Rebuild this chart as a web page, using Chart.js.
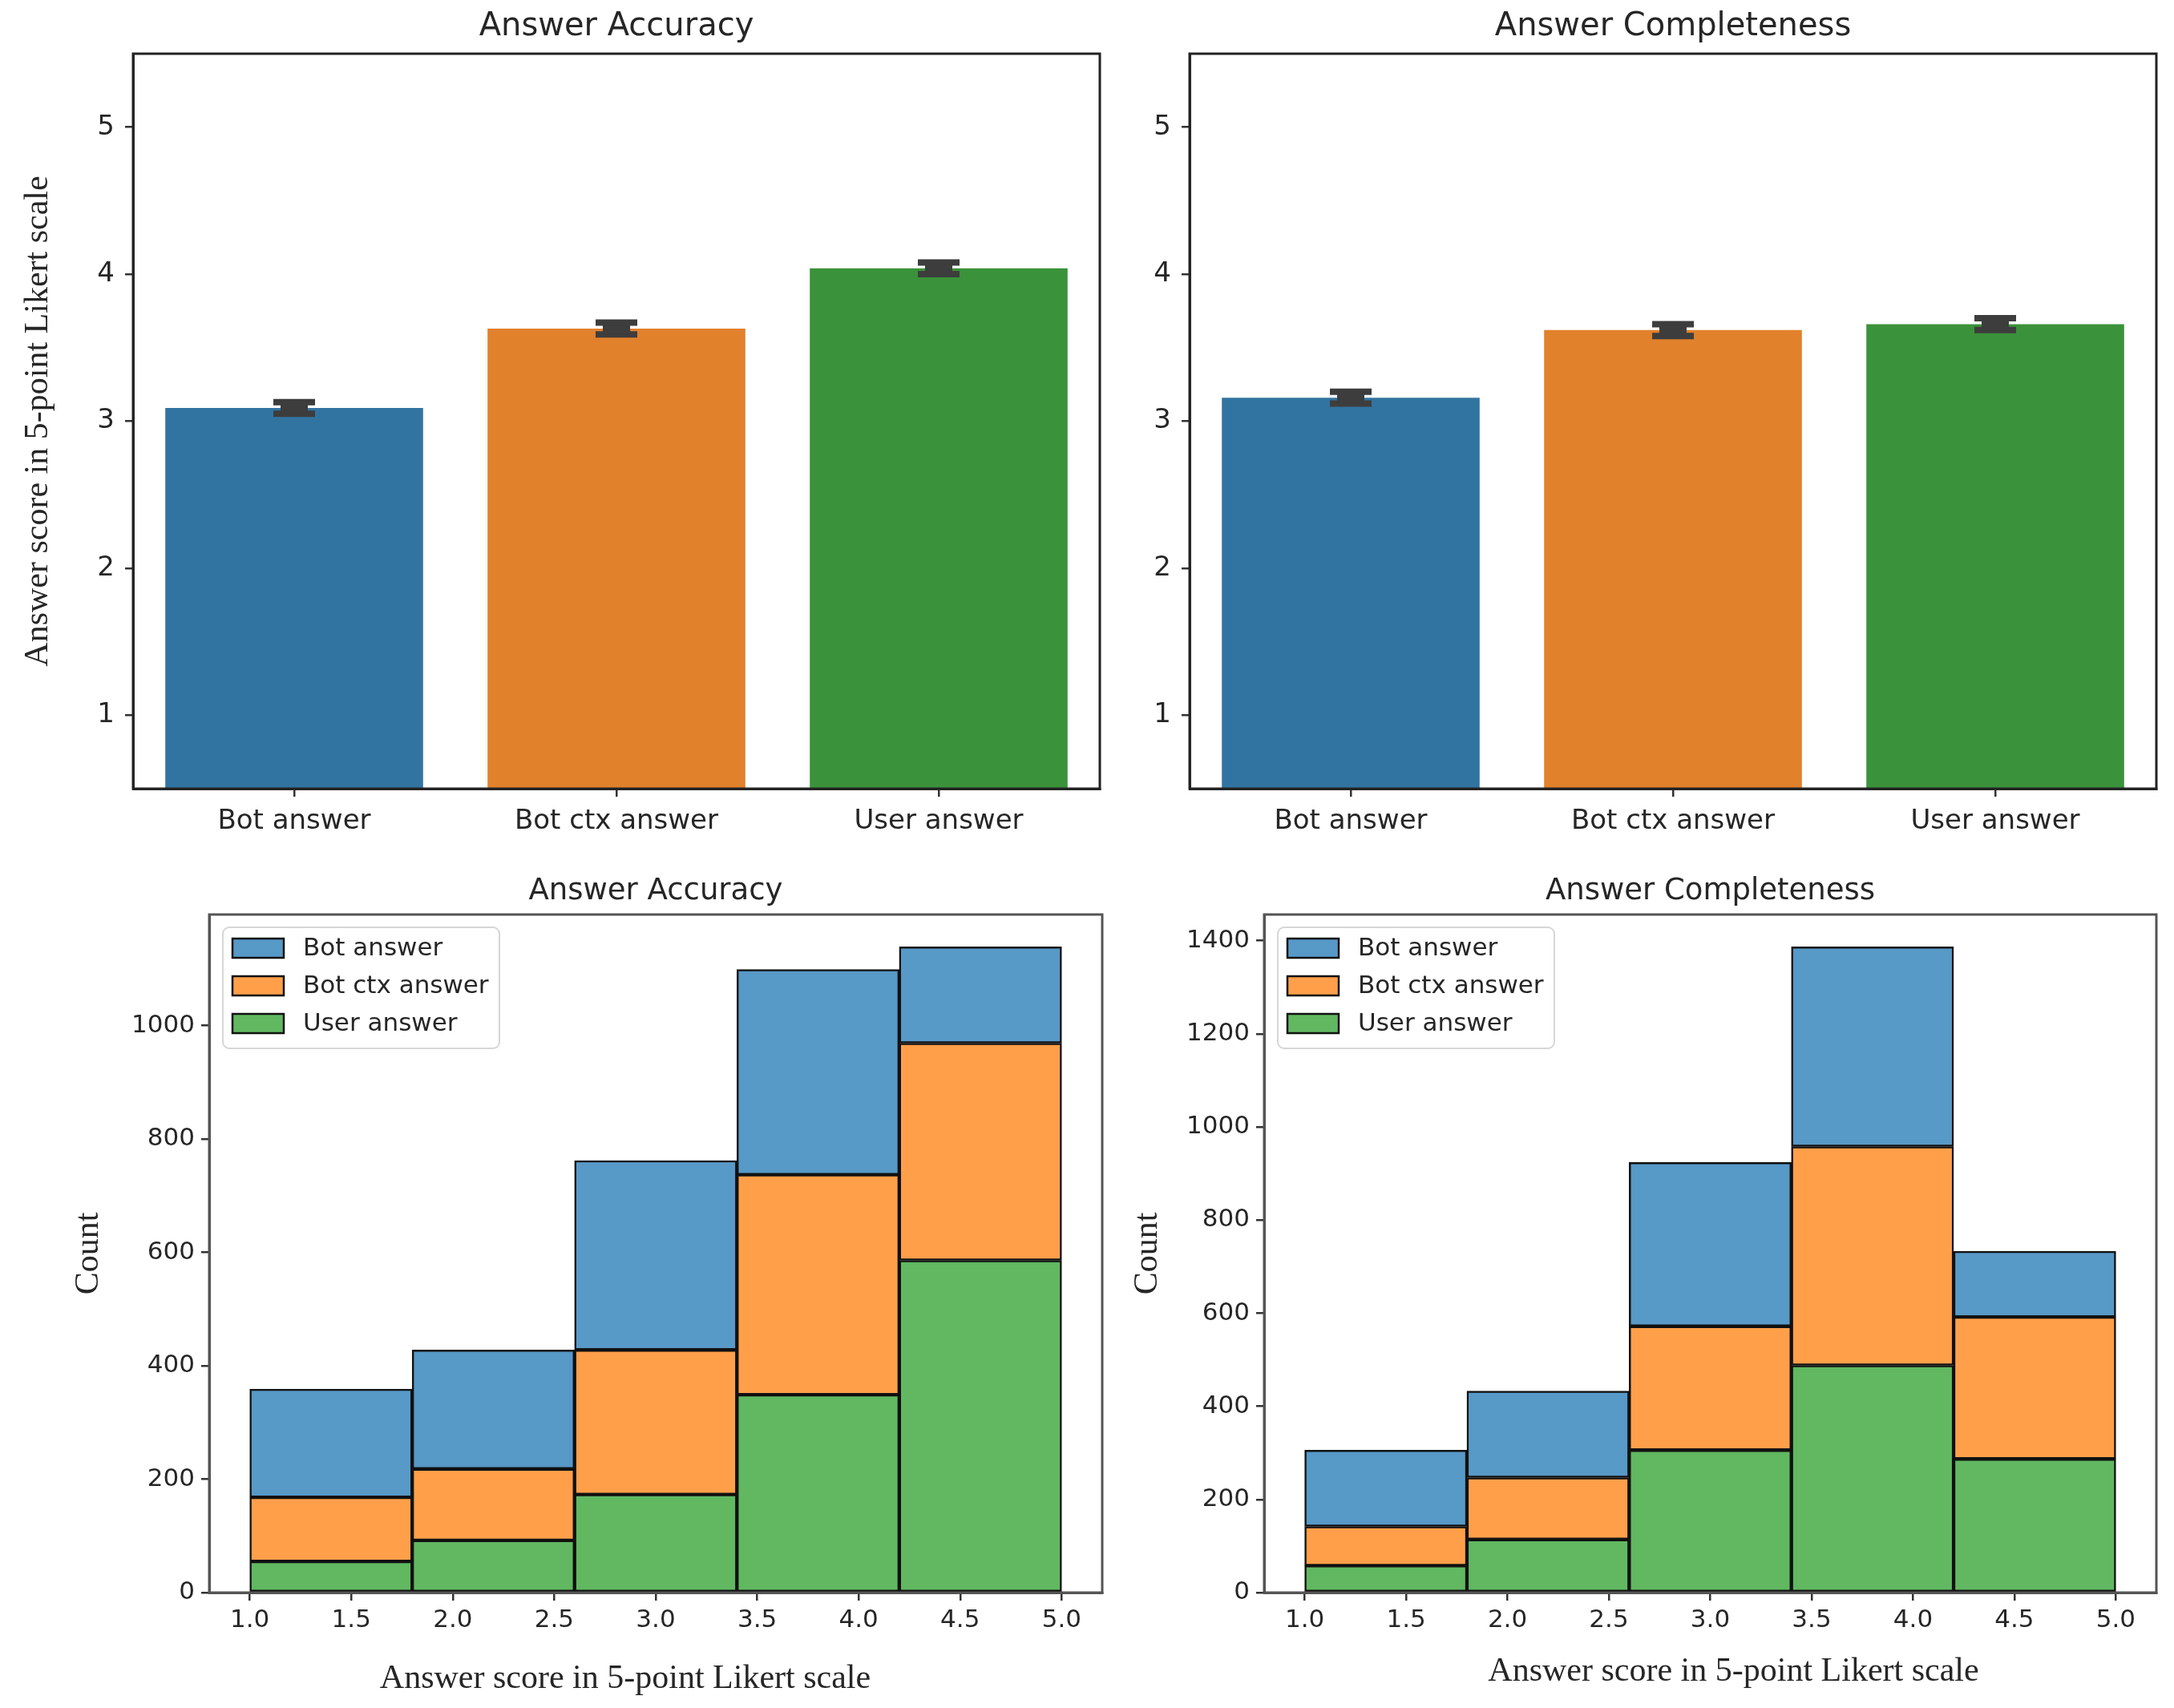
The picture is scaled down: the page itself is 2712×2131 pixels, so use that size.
<!DOCTYPE html>
<html>
<head>
<meta charset="utf-8">
<script src="https://cdn.jsdelivr.net/npm/chart.js@4.4.0/dist/chart.umd.min.js"></script>
<style>
  html, body { margin: 0; padding: 0; background: #fff; }
  body { width: 2712px; height: 2131px; position: relative; overflow: hidden; }
  canvas { position: absolute; }
</style>
</head>
<body>
<canvas id="accBar" width="1400" height="1060" style="left:0;top:0"></canvas>
<canvas id="compBar" width="1312" height="1060" style="left:1400px;top:0"></canvas>
<canvas id="accHist" width="1400" height="1071" style="left:0;top:1060px"></canvas>
<canvas id="compHist" width="1312" height="1071" style="left:1400px;top:1060px"></canvas>
<script>
// Categories and series
const answerTypes = ['Bot answer', 'Bot ctx answer', 'User answer'];

// Mean scores (top row) and half-width of the error bars
const accuracyMeans = [3.09, 3.63, 4.04];
const accuracyErr = [0.04, 0.04, 0.04];
const completenessMeans = [3.16, 3.62, 3.66];
const completenessErr = [0.04, 0.04, 0.04];
const scoreTicks = [1, 2, 3, 4, 5];

// Histogram bins (bottom row)
const binEdges = [1.0, 1.8, 2.6, 3.4, 4.2, 5.0];
const accBot = [191, 210, 334, 362, 170];
const accBotCtx = [113, 126, 255, 388, 383];
const accUser = [55, 92, 173, 349, 586];
const compBot = [164, 186, 352, 429, 141];
const compBotCtx = [84, 133, 266, 470, 305];
const compUser = [58, 114, 306, 488, 287];
const histXTicks = [1.0, 1.5, 2.0, 2.5, 3.0, 3.5, 4.0, 4.5, 5.0];
const accCountTicks = [0, 200, 400, 600, 800, 1000];
const compCountTicks = [0, 200, 400, 600, 800, 1000, 1200, 1400];

const barColors = ['#3274a1', '#e1812c', '#3a923a'];
const histColors = ['#5799c7', '#ff9f4a', '#61b861'];

const SANS = "'DejaVu Sans', sans-serif";
const SERIF = "'Liberation Serif', 'DejaVu Serif', serif";
const TEXT = '#262626';

// Box around the plotting area, like matplotlib spines
const framePlugin = {
    id: 'frame',
    afterDraw(chart, args, opts) {
        const a = chart.chartArea;
        const ctx = chart.ctx;
        ctx.save();
        ctx.strokeStyle = opts.color || '#222';
        ctx.lineWidth = opts.width || 3;
        ctx.strokeRect(a.left, a.top, a.right - a.left, a.bottom - a.top);
        ctx.restore();
    }
};

// Title centred over the plot area, plus optional x label placed by hand
const areaTitlePlugin = {
    id: 'areaTitle',
    afterDraw(chart, args, opts) {
        const a = chart.chartArea;
        const ctx = chart.ctx;
        ctx.save();
        ctx.fillStyle = TEXT;
        ctx.textAlign = 'center';
        ctx.textBaseline = 'middle';
        if (opts.text) {
            ctx.font = opts.size + 'px ' + SANS;
            ctx.fillText(opts.text, (a.left + a.right) / 2, opts.y);
        }
        if (opts.xLabel) {
            ctx.font = '42px ' + SERIF;
            ctx.fillText(opts.xLabel, (a.left + a.right) / 2 + opts.xLabelDx, opts.xLabelY);
        }
        ctx.restore();
    }
};

// Error bars on top of the mean bars
const errorBarPlugin = {
    id: 'errorBars',
    afterDatasetsDraw(chart, args, opts) {
        if (!opts.errors) return;
        const meta = chart.getDatasetMeta(0);
        const y = chart.scales.y;
        const vals = chart.data.datasets[0].data;
        const ctx = chart.ctx;
        ctx.save();
        ctx.strokeStyle = '#3d3d3d';
        meta.data.forEach((bar, i) => {
            const hi = y.getPixelForValue(vals[i] + opts.errors[i]);
            const lo = y.getPixelForValue(vals[i] - opts.errors[i]);
            const half = 26;
            ctx.lineWidth = 8;
            ctx.beginPath();
            ctx.moveTo(bar.x - half, hi);
            ctx.lineTo(bar.x + half, hi);
            ctx.moveTo(bar.x - half, lo);
            ctx.lineTo(bar.x + half, lo);
            ctx.stroke();
            ctx.lineWidth = 34;
            ctx.beginPath();
            ctx.moveTo(bar.x, hi);
            ctx.lineTo(bar.x, lo);
            ctx.stroke();
        });
        ctx.restore();
    }
};

// matplotlib-style legend box inside the plot area (top-left)
const boxLegendPlugin = {
    id: 'boxLegend',
    afterDraw(chart, args, opts) {
        if (!opts.display) return;
        const a = chart.chartArea;
        const ctx = chart.ctx;
        const x0 = a.left + 17, y0 = a.top + 16, w = 345, h = 151, r = 8;
        ctx.save();
        ctx.fillStyle = 'rgba(255,255,255,0.85)';
        ctx.strokeStyle = '#d6d6d6';
        ctx.lineWidth = 2;
        ctx.beginPath();
        ctx.roundRect(x0, y0, w, h, r);
        ctx.fill();
        ctx.stroke();
        // legend order is the reverse of the stacking order
        const ds = chart.data.datasets.slice().reverse();
        ds.forEach((d, i) => {
            const cy = y0 + 26 + i * 47;
            ctx.fillStyle = d.backgroundColor;
            ctx.fillRect(x0 + 12, cy - 12, 64, 24);
            ctx.strokeStyle = '#111';
            ctx.lineWidth = 2.5;
            ctx.strokeRect(x0 + 12, cy - 12, 64, 24);
            ctx.fillStyle = TEXT;
            ctx.font = '31px ' + SANS;
            ctx.textBaseline = 'middle';
            ctx.textAlign = 'left';
            ctx.fillText(d.label, x0 + 100, cy + 1);
        });
        ctx.restore();
    }
};

Chart.register(framePlugin, areaTitlePlugin, errorBarPlugin, boxLegendPlugin);

function axisStyle(fontSize) {
    return {
        grid: { display: true, drawOnChartArea: false, drawTicks: true, tickLength: 10, color: '#333', lineWidth: 2.5 },
        border: { display: true, color: '#333', width: 3 },
        ticks: { color: TEXT, font: { family: SANS, size: fontSize } }
    };
}

function meanChart(id, title, means, errs, yWidth, yTitle, rightPad) {
    const xs = axisStyle(34);
    const ys = axisStyle(34);
    return new Chart(document.getElementById(id), {
        type: 'bar',
        data: {
            labels: answerTypes,
            datasets: [{
                data: means,
                backgroundColor: barColors,
                borderWidth: 0,
                categoryPercentage: 1.0,
                barPercentage: 0.8
            }]
        },
        options: {
            responsive: false,
            animation: false,
            layout: { padding: { top: 67, right: rightPad, bottom: 0, left: 0 } },
            plugins: {
                legend: { display: false },
                tooltip: { enabled: false },
                title: { display: false },
                areaTitle: { text: title, size: 40, y: 34 },
                frame: { color: '#222', width: 3 },
                errorBars: { errors: errs },
                boxLegend: { display: false }
            },
            scales: {
                x: {
                    type: 'category',
                    offset: true,
                    grid: Object.assign({}, xs.grid, { offset: false }),
                    border: xs.border,
                    ticks: Object.assign({}, xs.ticks, { padding: 11, maxRotation: 0 }),
                    afterFit: s => { s.height = 76; }
                },
                y: {
                    min: 0.5, max: 5.5,
                    grid: ys.grid, border: ys.border,
                    ticks: Object.assign({}, ys.ticks, { padding: 13, callback: v => String(v) }),
                    afterBuildTicks: s => { s.ticks = scoreTicks.map(v => ({ value: v })); },
                    afterFit: s => { s.width = yWidth; },
                    title: yTitle ? {
                        display: true, text: 'Answer score in 5-point Likert scale', color: TEXT,
                        font: { family: SERIF, size: 42, lineHeight: 1.2 },
                        padding: { top: 23, bottom: 0 }
                    } : { display: false }
                }
            }
        }
    });
}

function histChart(id, title, bot, botCtx, user, countTicks, yWidth, countPad, xLabelDx, xLabelY, rightPad) {
    const centers = binEdges.slice(0, -1).map((e, i) => (e + binEdges[i + 1]) / 2);
    const pts = arr => arr.map((v, i) => ({ x: centers[i], y: v }));
    const totals = bot.map((v, i) => v + botCtx[i] + user[i]);
    const xs = axisStyle(31);
    const ys = axisStyle(31);
    const common = { borderColor: '#111', borderWidth: 2.5, borderSkipped: false,
        barThickness: 'flex', categoryPercentage: 1.0, barPercentage: 1.0 };
    return new Chart(document.getElementById(id), {
        type: 'bar',
        data: {
            datasets: [
                Object.assign({ label: 'User answer', data: pts(user), backgroundColor: histColors[2] }, common),
                Object.assign({ label: 'Bot ctx answer', data: pts(botCtx), backgroundColor: histColors[1] }, common),
                Object.assign({ label: 'Bot answer', data: pts(bot), backgroundColor: histColors[0] }, common)
            ]
        },
        options: {
            responsive: false,
            animation: false,
            layout: { padding: { top: 81, right: rightPad, bottom: 0, left: 0 } },
            plugins: {
                legend: { display: false },
                tooltip: { enabled: false },
                title: { display: false },
                areaTitle: { text: title, size: 37, y: 52,
                    xLabel: 'Answer score in 5-point Likert scale', xLabelDx: xLabelDx, xLabelY: xLabelY },
                frame: { color: '#555', width: 3 },
                errorBars: { errors: null },
                boxLegend: { display: true }
            },
            scales: {
                x: {
                    type: 'linear', stacked: true, offset: false,
                    min: 0.8, max: 5.2,
                    grid: Object.assign({}, xs.grid, { offset: false }),
                    border: Object.assign({}, xs.border, { color: '#555' }),
                    ticks: Object.assign({}, xs.ticks, { padding: 6, maxRotation: 0, callback: v => v.toFixed(1) }),
                    afterBuildTicks: s => { s.ticks = histXTicks.map(v => ({ value: v })); },
                    afterFit: s => { s.height = 144; }
                },
                y: {
                    stacked: true,
                    min: 0, max: Math.max(...totals) * 1.05,
                    grid: ys.grid, border: Object.assign({}, ys.border, { color: '#555' }),
                    ticks: Object.assign({}, ys.ticks, { padding: 8, callback: v => String(v) }),
                    afterBuildTicks: s => { s.ticks = countTicks.map(v => ({ value: v })); },
                    afterFit: s => { s.width = yWidth; },
                    title: {
                        display: true, text: 'Count', color: TEXT,
                        font: { family: SERIF, size: 42, lineHeight: 1.2 },
                        padding: { top: countPad, bottom: 0 }
                    }
                }
            }
        }
    });
}

meanChart('accBar', 'Answer Accuracy', accuracyMeans, accuracyErr, 166, true, 28);
meanChart('compBar', 'Answer Completeness', completenessMeans, completenessErr, 84, false, 22);
histChart('accHist', 'Answer Accuracy', accBot, accBotCtx, accUser, accCountTicks, 261, 86, -38, 1035, 25);
histChart('compHist', 'Answer Completeness', compBot, compBotCtx, compUser, compCountTicks, 177, 7, 29, 1026, 22);
</script>
</body>
</html>
